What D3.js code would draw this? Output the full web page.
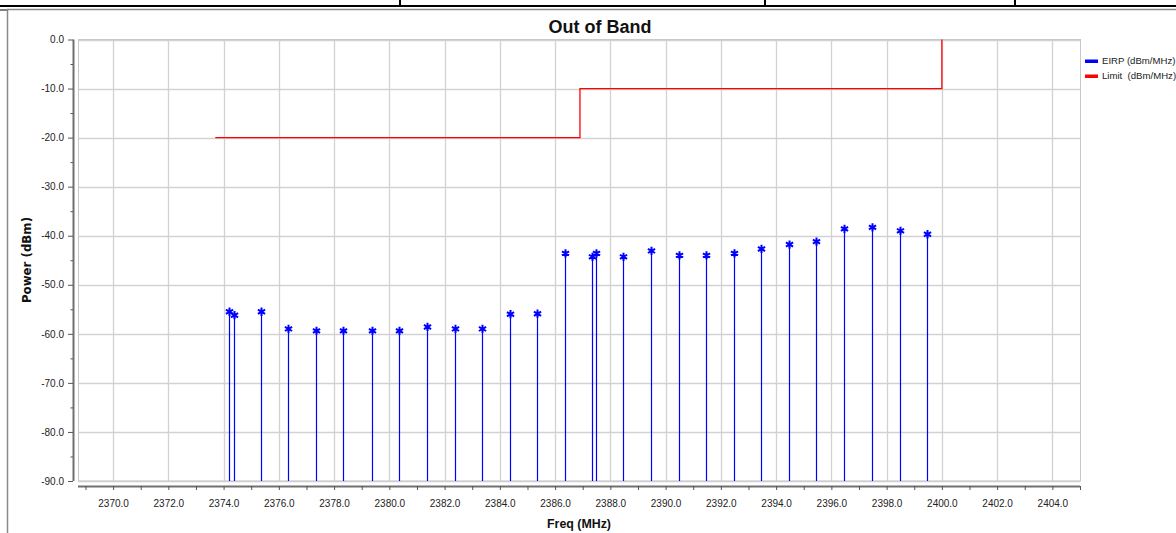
<!DOCTYPE html>
<html><head><meta charset="utf-8">
<script src="https://cdn.jsdelivr.net/npm/d3@7"></script>
<style>html,body{margin:0;padding:0;background:#fff;}svg{display:block;}</style>
</head><body>
<svg id="c" width="1176" height="533"></svg>
<script>
// ---- data ----
const eirpFreq = [2374.18, 2374.37, 2375.35, 2376.34, 2377.36, 2378.34, 2379.36, 2380.34, 2381.37, 2382.36, 2383.35, 2384.36, 2385.33,
  2386.37, 2387.34, 2387.48, 2388.47, 2389.48, 2390.47, 2391.48, 2392.47, 2393.46, 2394.47, 2395.46, 2396.47, 2397.46, 2398.47, 2399.46];
const eirpPower = [-55.5, -56.2, -55.5, -59.0, -59.4, -59.4, -59.4, -59.4, -58.6, -59.0, -59.0, -56.0, -55.9,
  -43.6, -44.3, -43.6, -44.3, -43.1, -44.0, -44.0, -43.6, -42.7, -41.8, -41.2, -38.6, -38.3, -39.0, -39.7];
const limitFreq = [2373.7, 2386.9, 2386.9, 2400.0, 2400.0];
const limitPower = [-20, -20, -10, -10, 0];
const xTickValues = [2370, 2372, 2374, 2376, 2378, 2380, 2382, 2384, 2386, 2388, 2390, 2392, 2394, 2396, 2398, 2400, 2402, 2404];
const yTickValues = [0, -10, -20, -30, -40, -50, -60, -70, -80, -90];
const legendLabels = ["EIRP (dBm/MHz)", "Limit  (dBm/MHz)"];
const titleText = "Out of Band";
const xTitle = "Freq (MHz)";
const yTitle = "Power (dBm)";

// ---- layout ----
const svg = d3.select("#c");
const L = 78, R = 1080, T = 39.5, B = 481;
const x = d3.scaleLinear().domain([2368.73, 2405]).range([L, R]);
const y = d3.scaleLinear().domain([-90, 0]).range([B, T]);
const font = "'Liberation Sans', Arial, sans-serif";
const fmt = d => d3.format(".1f")(d).replace("\u2212", "-");

// document frame
svg.append("line").attr("x1", 0).attr("x2", 1176).attr("y1", 6).attr("y2", 6).attr("stroke", "#000").attr("stroke-width", 2);
[400, 765, 1015].forEach(px => svg.append("line").attr("x1", px).attr("x2", px).attr("y1", 0).attr("y2", 6).attr("stroke", "#000").attr("stroke-width", 2));
svg.append("line").attr("x1", 0).attr("x2", 7).attr("y1", 10).attr("y2", 10).attr("stroke", "#000").attr("stroke-width", 1);
svg.append("path").attr("d", "M7.5,533 V9.5 H1176").attr("fill", "none").attr("stroke", "#8a8a8a").attr("stroke-width", 1.5);

// grid
const g = svg.append("g");
g.selectAll(".vg").data(xTickValues).enter().append("line")
  .attr("x1", d => Math.round(x(d)) + 0.5).attr("x2", d => Math.round(x(d)) + 0.5)
  .attr("y1", T).attr("y2", B).attr("stroke", "#d2d2d2").attr("stroke-width", 1.3);
g.selectAll(".hg").data(yTickValues).enter().append("line")
  .attr("x1", L).attr("x2", R)
  .attr("y1", d => Math.round(y(d)) + 0.5).attr("y2", d => Math.round(y(d)) + 0.5)
  .attr("stroke", "#d2d2d2").attr("stroke-width", 1.3);
g.append("rect").attr("x", L + 0.5).attr("y", T).attr("width", R - L).attr("height", B - T)
  .attr("fill", "none").attr("stroke", "#c8c8c8").attr("stroke-width", 1);

// x axis
const xAxisY = 486;
const xMinor = d3.range(2369, 2406, 1);
const xa = svg.append("g").attr("transform", `translate(0,${xAxisY})`)
  .call(d3.axisBottom(x).tickValues(xMinor).tickSize(4).tickFormat(d => xTickValues.includes(d) ? fmt(d) : ""));
xa.select(".domain").attr("d", `M${L},0.5H${R}`).attr("stroke", "#707070").attr("stroke-width", 2);
xa.selectAll(".tick line").attr("stroke", "#555").attr("stroke-width", 1);
xa.selectAll(".tick text").attr("font-family", font).attr("font-size", 10).attr("fill", "#222").attr("dy", "1.35em");

// y axis
const yAxisX = 73;
const yMinor = d3.range(0, -91, -5);
const ya = svg.append("g").attr("transform", `translate(${yAxisX},0)`)
  .call(d3.axisLeft(y).tickValues(yMinor).tickSize(5).tickFormat(d => yTickValues.includes(d) ? fmt(d) : ""));
ya.select(".domain").attr("d", `M0.5,${T}V${B}`).attr("stroke", "#707070").attr("stroke-width", 2);
ya.selectAll(".tick line").attr("stroke", "#555").attr("stroke-width", 1)
  .attr("x2", d => yTickValues.includes(d) ? -5 : -2.5);
ya.selectAll(".tick text").attr("font-family", font).attr("font-size", 10).attr("fill", "#222").attr("x", -9);

// limit line
const limitData = limitFreq.map((f, i) => [f, limitPower[i]]);
svg.append("path").datum(limitData)
  .attr("d", d3.line().x(d => x(d[0])).y(d => y(d[1])))
  .attr("fill", "none").attr("stroke", "#ff0000").attr("stroke-width", 1.3);

// EIRP stems and markers
const eirp = eirpFreq.map((f, i) => ({ f, p: eirpPower[i] }));
svg.selectAll(".stem").data(eirp).enter().append("line")
  .attr("x1", d => Math.round(x(d.f)) + 0.5).attr("x2", d => Math.round(x(d.f)) + 0.5)
  .attr("y1", y(-90)).attr("y2", d => y(d.p))
  .attr("stroke", "#0000ff").attr("stroke-width", 1.2);
svg.selectAll(".mk").data(eirp).enter().append("path")
  .attr("d", d3.symbol().type(d3.symbolAsterisk).size(48))
  .attr("transform", d => `translate(${Math.round(x(d.f)) + 0.5},${y(d.p)})`)
  .attr("fill", "none").attr("stroke", "#0000ff").attr("stroke-width", 2);

// titles
svg.append("text").attr("x", 600).attr("y", 33).attr("text-anchor", "middle")
  .attr("font-family", font).attr("font-weight", "bold").attr("font-size", 18).attr("fill", "#111").text(titleText);
svg.append("text").attr("x", 579).attr("y", 528).attr("text-anchor", "middle")
  .attr("font-family", font).attr("font-weight", "bold").attr("font-size", 12.4).attr("fill", "#111").text(xTitle);
svg.append("text").attr("transform", `translate(31,260) rotate(-90)`).attr("text-anchor", "middle")
  .attr("font-family", "'DejaVu Sans', sans-serif").attr("font-weight", "bold").attr("font-size", 11.8).attr("fill", "#111").text(yTitle);

// legend
const legColors = ["#0000ff", "#ff0000"];
const lg = svg.append("g");
legendLabels.forEach((t, i) => {
  const yy = 61 + i * 15;
  lg.append("rect").attr("x", 1085).attr("y", yy - 1.5).attr("width", 13).attr("height", 3.5).attr("fill", legColors[i]);
  lg.append("text").attr("x", 1102).attr("y", yy).attr("dy", "0.35em")
    .attr("font-family", font).attr("font-size", 9.6).attr("fill", "#222").attr("xml:space", "preserve").style("white-space", "pre").text(t);
});
</script>
</body></html>
